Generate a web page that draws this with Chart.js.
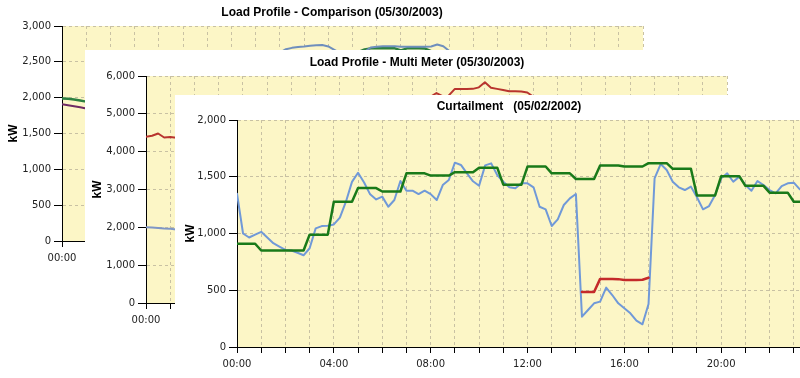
<!DOCTYPE html>
<html><head><meta charset="utf-8">
<script src="https://cdn.jsdelivr.net/npm/chart.js@4.4.1/dist/chart.umd.min.js"></script>
<style>
html,body{margin:0;padding:0;width:800px;height:378px;overflow:hidden;background:#fff;}
.panel{position:absolute;background:#fff;}
canvas{display:block;}
</style></head><body>
<div class="panel" style="left:0;top:0"><canvas id="c1" width="665" height="272"></canvas></div>
<div class="panel" style="left:85px;top:50px"><canvas id="c2" width="665" height="286"></canvas></div>
<div class="panel" style="left:175px;top:95px"><canvas id="c3" width="665" height="283"></canvas></div>
<script>
const N = null;
// x positions: quarter hours of the day (0 .. 23.75)
const quarterHours = Array.from({length: 96}, (_, i) => i / 4);
const hourTickLabels = ['00:00', '04:00', '08:00', '12:00', '16:00', '20:00'];

// ---- Chart 1: Load Profile - Comparison (05/30/2003), kW (only visible parts) ----
const cmpBlue = [
  N,N,N,N,N,N,N,N,N,N,N,N,
  N,N,N,N,N,N,N,N,N,N,N,N,
  N,N,N,N,N,N,N,N,N,N,N,N,
  2630,2676,2695,2708,2715,2726,2730,2735,2715,2668,2620,N,
  N,N,2640,2700,2712,2716,2718,2718,2712,2711,2710,2710,
  2710,2715,2742,2718,2650,N,N,N,N,N,N,N,
  N,N,N,N,N,N,N,N,N,N,N,N,
  N,N,N,N,N,N,N,N,N,N,N,N
];
const cmpGreen = [
  1990,1985,1975,1960,1945,1930,N,N,N,N,N,N,
  N,N,N,N,N,N,N,N,N,N,N,N,
  N,N,N,N,N,N,N,N,N,N,N,N,
  N,N,N,N,N,N,N,N,N,N,N,N,
  N,2640,2672,2688,2690,2690,2688,2688,2660,2688,2690,2690,
  2685,2650,N,N,N,N,N,N,N,N,N,N,
  N,N,N,N,N,N,N,N,N,N,N,N,
  N,N,N,N,N,N,N,N,N,N,N,N
];
const cmpPurple = [
  1910,1895,1880,1865,1850,1835,N,N,N,N,N,N,
  N,N,N,N,N,N,N,N,N,N,N,N,
  N,N,N,N,N,N,N,N,N,N,N,N,
  N,N,N,N,N,N,N,N,N,N,N,N,
  N,N,N,N,N,N,N,N,N,N,N,N,
  N,N,N,N,N,N,N,N,N,N,N,N,
  N,N,N,N,N,N,N,N,N,N,N,N,
  N,N,N,N,N,N,N,N,N,N,N,N
];

// ---- Chart 2: Load Profile - Multi Meter (05/30/2003), kW (only visible parts) ----
const mmRed = [
  4396,4420,4480,4375,4390,4370,4380,N,N,N,N,N,
  N,N,N,N,N,N,N,N,N,N,N,N,
  N,N,N,N,N,N,N,N,N,N,N,N,
  N,N,N,N,N,N,N,N,N,N,N,5450,
  5550,5470,5480,5655,5655,5655,5660,5700,5833,5690,5660,5630,
  5595,5595,5590,5565,5450,N,N,N,N,N,N,N,
  N,N,N,N,N,N,N,N,N,N,N,N,
  N,N,N,N,N,N,N,N,N,N,N,N
];
const mmBlue = [
  2000,1995,1985,1970,1960,1945,1935,N,N,N,N,N,
  N,N,N,N,N,N,N,N,N,N,N,N,
  N,N,N,N,N,N,N,N,N,N,N,N,
  N,N,N,N,N,N,N,N,N,N,N,N,
  N,N,N,N,N,N,N,N,N,N,N,N,
  N,N,N,N,N,N,N,N,N,N,N,N,
  N,N,N,N,N,N,N,N,N,N,N,N,
  N,N,N,N,N,N,N,N,N,N,N,N
];

// ---- Chart 3: Curtailment (05/02/2002), kW ----
const curtActual = [
  1350,1000,965,990, 1015,965,915,885, 855,850,830,808,
  870,1045,1065,1068, 1080,1140,1280,1455, 1535,1450,1345,1300,
  1325,1236,1295,1462, 1377,1377,1347,1377, 1347,1295,1427,1471,
  1624,1604,1530,1460, 1421,1600,1618,1515, 1456,1407,1398,1442,
  1442,1407,1236,1213, 1066,1125,1251,1310, 1348,267,326,385,
  400,523,458,385, 341,297,232,200, 379,1486,1612,1559,
  1456,1407,1383,1413, 1319,1213,1242,1339, 1486,1530,1456,1501,
  1427,1377,1462,1427, 1383,1354,1418,1442, 1448,1389,1380,1370
];
const curtBaselineHourly = [910,850,850,990,1280,1400,1370,1530,1510,1540,1580,1430,
                            1590,1530,1480,1600,1590,1620,1570,1335,1505,1420,1360,1280];
const curtCurtailed = [
  N,N,N,N,N,N,N,N,N,N,N,N,
  N,N,N,N,N,N,N,N,N,N,N,N,
  N,N,N,N,N,N,N,N,N,N,N,N,
  N,N,N,N,N,N,N,N,N,N,N,N,
  N,N,N,N,N,N,N,N,N,485,485,485,
  600,600,600,598,590,590,590,592,610,N,N,N,
  N,N,N,N,N,N,N,N,N,N,N,N,
  N,N,N,N,N,N,N,N,N,N,N,N
];

// ---- helpers ----
const PLOT_BG = '#fcf6c6';
const GRID = '#c8c1a3';
const toXY = vals => vals.map((v, i) => ({x: quarterHours[i], y: v}));
const curtBaseline = quarterHours.map(h => curtBaselineHourly[Math.floor(h)]);

const plotBg = {
  id: 'plotBg',
  beforeDraw(chart) {
    const {ctx, chartArea: a} = chart;
    ctx.save();
    ctx.fillStyle = '#fff';
    ctx.fillRect(0, 0, chart.width, chart.height);
    ctx.fillStyle = PLOT_BG;
    ctx.fillRect(a.left, a.top, a.right - a.left, a.bottom - a.top);
    ctx.restore();
  }
};

function panelTitle(text, cx, cy) {
  return {
    id: 'panelTitle',
    afterDraw(chart) {
      const ctx = chart.ctx;
      ctx.save();
      ctx.font = 'bold 12px "Liberation Sans", Arial, sans-serif';
      ctx.fillStyle = '#000';
      ctx.textAlign = 'center';
      ctx.textBaseline = 'middle';
      ctx.fillText(text, cx, cy);
      ctx.restore();
    }
  };
}

function zeroPad(s) { s.paddingLeft = 0; s.paddingRight = 0; s.paddingTop = 0; s.paddingBottom = 0; }

function makeChart(id, cfg) {
  const {W, H, plot, yMax, yStep, datasets, title, titleX, titleY, kwPad} = cfg;
  const tickFont = {family: 'DejaVu Sans', size: 10};
  return new Chart(document.getElementById(id), {
    type: 'line',
    data: {datasets},
    options: {
      responsive: false, animation: false, devicePixelRatio: 1, events: [],
      layout: {padding: {left: 0, top: plot.top, bottom: 0, right: W - plot.right}},
      plugins: {
        legend: {display: false},
        tooltip: {enabled: false},
        title: {display: false}
      },
      elements: {point: {radius: 0}, line: {tension: 0, borderJoinStyle: 'round', borderCapStyle: 'round'}},
      scales: {
        x: {
          type: 'linear', min: 0, max: 24,
          afterFit: s => { s.height = H - plot.bottom; zeroPad(s); },
          ticks: {
            stepSize: 1, autoSkip: false, maxRotation: 0, minRotation: 0, padding: 5,
            color: '#222', font: tickFont,
            callback: v => (v % 4 === 0 && v < 24) ? hourTickLabels[v / 4] : ''
          },
          grid: {color: GRID, lineWidth: 1, tickLength: 6, tickColor: '#000', tickBorderDash: []},
          border: {display: true, color: '#000', width: 1, dash: [3, 3]}
        },
        y: {
          min: 0, max: yMax,
          afterFit: s => { s.width = plot.left; zeroPad(s); },
          ticks: {
            stepSize: yStep, padding: 3, color: '#222', font: tickFont,
            callback: v => v.toLocaleString('en-US')
          },
          grid: {color: GRID, lineWidth: 1, tickLength: 8, tickColor: '#000', tickBorderDash: []},
          border: {display: true, color: '#000', width: 1, dash: [3, 3]},
          title: {
            display: true, text: 'kW', color: '#000',
            font: {family: 'Liberation Sans', size: 12, weight: 'bold'},
            padding: {top: kwPad, bottom: 0}
          }
        }
      }
    },
    plugins: [plotBg, panelTitle(title, titleX, titleY)]
  });
}

const ds = (data, color, width) => ({data: toXY(data), borderColor: color, borderWidth: width, fill: false, spanGaps: false});

makeChart('c1', {
  W: 665, H: 272, plot: {left: 62, top: 26, right: 643, bottom: 241},
  yMax: 3000, yStep: 500, title: 'Load Profile - Comparison (05/30/2003)', titleX: 332, titleY: 13, kwPad: 6,
  datasets: [ds(cmpBlue, '#6f8fbd', 2), ds(cmpGreen, '#2d8040', 2.5), ds(cmpPurple, '#6e2a64', 2)]
});
makeChart('c2', {
  W: 665, H: 286, plot: {left: 61, top: 26, right: 642, bottom: 253},
  yMax: 6000, yStep: 1000, title: 'Load Profile - Multi Meter (05/30/2003)', titleX: 332, titleY: 13, kwPad: 5,
  datasets: [ds(mmRed, '#b8342e', 2), ds(mmBlue, '#7f97c6', 2)]
});
makeChart('c3', {
  W: 665, H: 283, plot: {left: 62, top: 25, right: 643, bottom: 252},
  yMax: 2000, yStep: 500, title: 'Curtailment   (05/02/2002)', titleX: 334, titleY: 12, kwPad: 8,
  datasets: [ds(curtCurtailed, '#c42a2a', 2.5), ds(curtBaseline, '#197a19', 2.5), ds(curtActual, '#7099d8', 2)]
});
</script>
</body></html>
